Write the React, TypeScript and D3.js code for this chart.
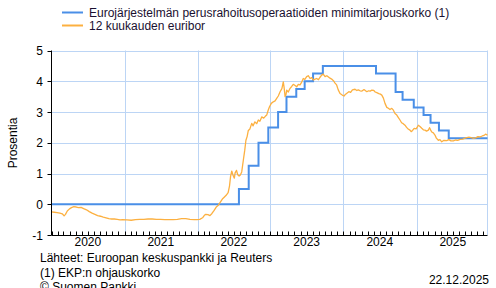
import React from "react";
import * as d3 from "d3";

const mroDates = ["2020-01-01","2022-07-27","2022-09-14","2022-11-02","2022-12-21","2023-02-08","2023-03-22","2023-05-10","2023-06-21","2023-08-02","2023-09-20","2024-06-12","2024-09-18","2024-10-23","2024-12-18","2025-02-05","2025-03-12","2025-04-23","2025-06-11","2025-12-22"];
const mroValues = [0,0.5,1.25,2.0,2.5,3.0,3.5,3.75,4.0,4.25,4.5,4.25,3.65,3.4,3.15,2.9,2.65,2.4,2.15,2.15];

const euriborDates = [
"2020-01-01","2020-01-15","2020-01-29","2020-02-12","2020-02-24","2020-03-04","2020-03-11","2020-03-20","2020-03-31","2020-04-10","2020-04-22","2020-05-04","2020-05-15","2020-05-28","2020-06-10","2020-06-24","2020-07-08","2020-07-22","2020-08-05","2020-08-19","2020-09-02","2020-09-16","2020-09-30","2020-10-14","2020-10-28","2020-11-11","2020-11-25","2020-12-09","2020-12-23",
"2021-01-13","2021-02-03","2021-02-24","2021-03-17","2021-04-07","2021-04-28","2021-05-19","2021-06-09","2021-06-30","2021-07-21","2021-08-11","2021-09-01","2021-09-22","2021-10-13","2021-11-03","2021-11-24","2021-12-15","2021-12-29",
"2022-01-12","2022-01-26","2022-02-04","2022-02-11","2022-02-22","2022-03-04","2022-03-14","2022-03-25","2022-04-06","2022-04-15","2022-04-25","2022-05-05","2022-05-13","2022-05-24","2022-06-03","2022-06-10","2022-06-15","2022-06-21","2022-06-27","2022-07-04","2022-07-08","2022-07-15","2022-07-21","2022-07-28","2022-08-03","2022-08-10","2022-08-18","2022-08-25","2022-08-31","2022-09-06","2022-09-12","2022-09-20","2022-09-29","2022-10-06","2022-10-15","2022-10-24","2022-11-01","2022-11-09","2022-11-18","2022-11-28","2022-12-06","2022-12-13","2022-12-20","2022-12-27",
"2023-01-05","2023-01-15","2023-01-24","2023-02-01","2023-02-09","2023-02-18","2023-02-27","2023-03-06","2023-03-10","2023-03-15","2023-03-20","2023-03-23","2023-03-31","2023-04-09","2023-04-17","2023-04-25","2023-05-04","2023-05-12","2023-05-20","2023-05-29","2023-06-06","2023-06-14","2023-06-22","2023-07-01","2023-07-09","2023-07-18","2023-07-26","2023-08-03","2023-08-12","2023-08-20","2023-08-29","2023-09-06","2023-09-14","2023-09-22","2023-10-01","2023-10-10","2023-10-18","2023-10-26","2023-11-03","2023-11-12","2023-11-20","2023-11-28","2023-12-06","2023-12-15","2023-12-26",
"2024-01-04","2024-01-12","2024-01-20","2024-01-28","2024-02-06","2024-02-15","2024-02-28","2024-03-08","2024-03-16","2024-03-24","2024-04-03","2024-04-13","2024-04-27","2024-05-06","2024-05-14","2024-05-22","2024-06-01","2024-06-08","2024-06-16","2024-06-26","2024-07-04","2024-07-11","2024-07-19","2024-07-27","2024-08-05","2024-08-13","2024-08-21","2024-08-30","2024-09-07","2024-09-15","2024-09-24","2024-10-02","2024-10-10","2024-10-18","2024-10-26","2024-11-04","2024-11-12","2024-11-20","2024-11-29","2024-12-05","2024-12-12","2024-12-20","2024-12-30",
"2025-01-10","2025-01-18","2025-01-27","2025-02-04","2025-02-12","2025-02-20","2025-03-01","2025-03-07","2025-03-12","2025-03-18","2025-03-26","2025-04-03","2025-04-10","2025-04-20","2025-04-28","2025-05-07","2025-05-18","2025-06-01","2025-06-12","2025-06-22","2025-07-04","2025-07-15","2025-07-26","2025-08-07","2025-08-20","2025-09-01","2025-09-09","2025-09-20","2025-10-01","2025-10-12","2025-10-24","2025-11-04","2025-11-15","2025-11-26","2025-12-05","2025-12-12","2025-12-22"];
const euriborValues = [
-0.25,-0.26,-0.27,-0.29,-0.31,-0.38,-0.33,-0.22,-0.15,-0.11,-0.08,-0.09,-0.11,-0.10,-0.14,-0.18,-0.24,-0.29,-0.33,-0.37,-0.39,-0.42,-0.44,-0.47,-0.48,-0.48,-0.49,-0.51,-0.50,
-0.51,-0.52,-0.50,-0.49,-0.49,-0.48,-0.48,-0.49,-0.49,-0.50,-0.50,-0.50,-0.49,-0.47,-0.47,-0.49,-0.50,-0.50,
-0.49,-0.44,-0.36,-0.33,-0.34,-0.37,-0.30,-0.20,-0.08,-0.03,0.07,0.17,0.22,0.29,0.38,0.60,0.90,1.08,0.95,0.85,1.02,1.10,0.96,0.92,0.95,1.05,1.43,1.75,2.08,2.20,2.40,2.45,2.63,2.55,2.68,2.62,2.74,2.70,2.84,2.80,2.86,2.90,3.05,3.17,
3.28,3.33,3.36,3.44,3.52,3.66,3.76,3.98,3.80,3.50,3.58,3.71,3.65,3.77,3.83,3.90,3.86,3.82,3.90,3.88,3.97,4.09,4.06,4.15,4.18,4.09,4.12,4.04,4.07,4.09,4.05,4.13,4.20,4.23,4.15,4.18,4.14,4.10,4.07,4.02,3.94,3.88,3.72,3.60,3.55,
3.52,3.58,3.62,3.66,3.64,3.72,3.74,3.70,3.72,3.69,3.68,3.73,3.66,3.69,3.68,3.71,3.70,3.65,3.63,3.60,3.58,3.55,3.45,3.28,3.15,3.12,3.08,3.12,3.06,2.95,2.90,2.82,2.74,2.65,2.62,2.57,2.50,2.45,2.41,2.36,2.40,2.47,2.45,
2.57,2.53,2.47,2.42,2.41,2.38,2.41,2.49,2.42,2.35,2.32,2.25,2.15,2.08,2.10,2.03,2.08,2.07,2.10,2.06,2.06,2.09,2.08,2.11,2.12,2.15,2.17,2.18,2.17,2.14,2.16,2.20,2.19,2.22,2.24,2.28,2.25];

const yTicks = [-1, 0, 1, 2, 3, 4, 5];
const yearLabels = ["2020", "2021", "2022", "2023", "2024", "2025"];
const legendLabels = ["Eurojärjestelmän perusrahoitusoperaatioiden minimitarjouskorko (1)", "12 kuukauden euribor"];
const footerLines = ["Lähteet: Euroopan keskuspankki ja Reuters", "(1) EKP:n ohjauskorko", "© Suomen Pankki"];
const dateText = "22.12.2025";
const yTitle = "Prosentia";

const BLUE = "#4a8fe7";
const ORANGE = "#fcb040";
const GRID = "#bcd5f5";
const FONT = "'Liberation Sans', Arial, sans-serif";

export default function App() {
  const W = 496, H = 288;
  const left = 51.5, right = 487.5, top = 50.5, bottom = 235;
  const parse = d3.timeParse("%Y-%m-%d");
  const x = d3.scaleTime().domain([parse("2020-01-01")!, parse("2025-12-22")!]).range([left, right]);
  const y = d3.scaleLinear().domain([-1, 5]).range([bottom, top]);

  const mro = mroDates.map((d, i) => ({ d: parse(d)!, v: mroValues[i] }));
  const eur = euriborDates.map((d, i) => ({ d: parse(d)!, v: euriborValues[i] }));

  const mroLine = d3.line<{ d: Date; v: number }>().x(p => x(p.d)).y(p => y(p.v)).curve(d3.curveStepAfter);
  const eurLine = d3.line<{ d: Date; v: number }>().x(p => x(p.d)).y(p => y(p.v));

  const yearStarts = d3.timeYear.range(parse("2021-01-01")!, parse("2026-01-01")!);
  const months = d3.timeMonth.range(parse("2020-01-01")!, parse("2025-12-22")!);

  return (
    <svg width={W} height={H} style={{ position: "absolute", left: 0, top: 0, background: "#fff" }} fontFamily={FONT}>
      <rect x={0} y={0} width={W} height={H} fill="#fff" />
      {/* grid */}
      {yTicks.filter(t => t > -1).map(t => (
        <line key={"gy" + t} x1={left} x2={right} y1={Math.round(y(t)) + 0.5} y2={Math.round(y(t)) + 0.5} stroke={GRID} strokeWidth={1} />
      ))}
      {yearStarts.map((d, i) => (
        <line key={"gx" + i} x1={Math.round(x(d)) + 0.5} x2={Math.round(x(d)) + 0.5} y1={top} y2={bottom} stroke={GRID} strokeWidth={1} />
      ))}
      <line x1={right} x2={right} y1={top} y2={bottom} stroke={GRID} strokeWidth={1} />
      {/* series */}
      <path d={mroLine(mro) || ""} fill="none" stroke={BLUE} strokeWidth={2} />
      <path d={eurLine(eur) || ""} fill="none" stroke={ORANGE} strokeWidth={1.3} strokeLinejoin="round" />
      {/* axes */}
      <line x1={left} x2={left} y1={top} y2={bottom} stroke="#000" strokeWidth={1} />
      <line x1={left} x2={right} y1={bottom + 0.5} y2={bottom + 0.5} stroke="#000" strokeWidth={1} />
      {yTicks.map(t => (
        <g key={"yt" + t}>
          <line x1={left - 4} x2={left} y1={Math.round(y(t)) + 0.5} y2={Math.round(y(t)) + 0.5} stroke="#000" />
          <text x={43} y={y(t) + 4.5} fontSize={12} textAnchor="end" fill="#000">{t}</text>
        </g>
      ))}
      {months.map((d, i) => (
        <line key={"mt" + i} x1={Math.round(x(d)) + 0.5} x2={Math.round(x(d)) + 0.5} y1={bottom - 3.5} y2={bottom} stroke="#000" />
      ))}
      {yearLabels.map((l, i) => {
        const mid = x(parse(l + "-07-01")!);
        return <text key={"xl" + l} x={mid} y={246} fontSize={12} textAnchor="middle" fill="#000">{l}</text>;
      })}
      <text transform={`translate(17,143) rotate(-90)`} fontSize={12} textAnchor="middle" fill="#000">{yTitle}</text>
      {/* legend */}
      <line x1={62} x2={83} y1={12.5} y2={12.5} stroke={BLUE} strokeWidth={2} />
      <line x1={62} x2={83} y1={25.5} y2={25.5} stroke={ORANGE} strokeWidth={2} />
      <text x={89} y={17} fontSize={12} fill="#1a1030">{legendLabels[0]}</text>
      <text x={89} y={30} fontSize={12} fill="#1a1030">{legendLabels[1]}</text>
      {/* footer */}
      {footerLines.map((l, i) => (
        <text key={"f" + i} x={40} y={262 + i * 14.5} fontSize={12} fill="#000">{l}</text>
      ))}
      <text x={489} y={284} fontSize={12} textAnchor="end" fill="#000">{dateText}</text>
    </svg>
  );
}
